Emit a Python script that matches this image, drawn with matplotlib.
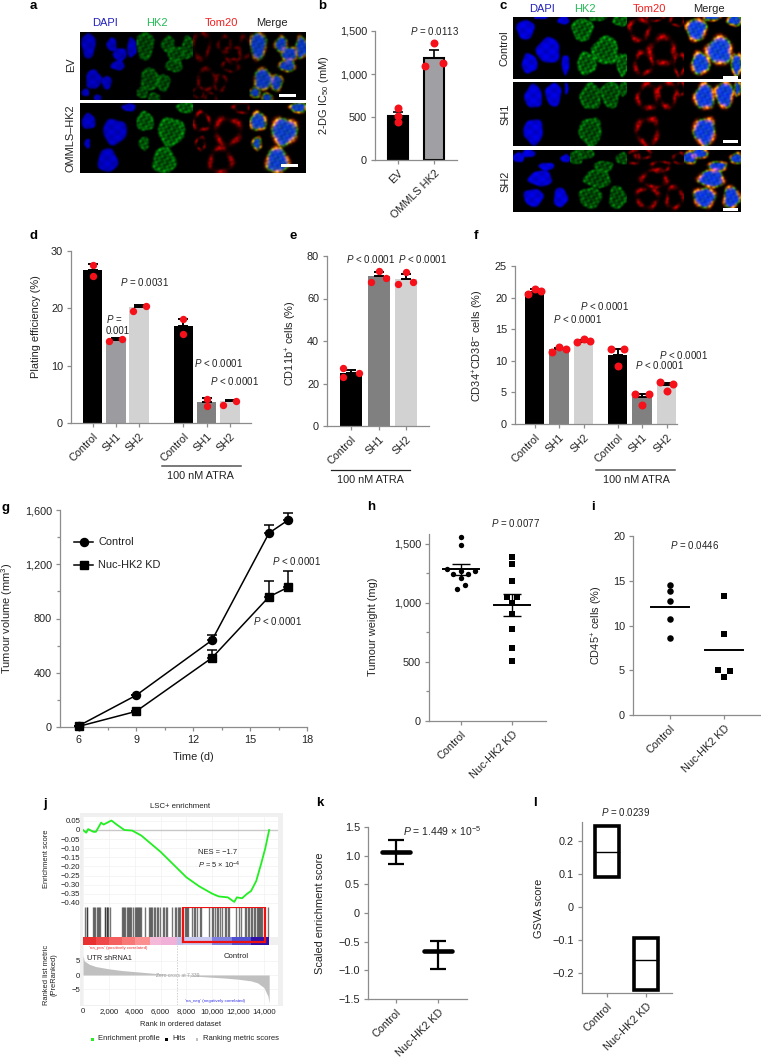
import numpy as np
import matplotlib
matplotlib.use('Agg')
import matplotlib.pyplot as plt
from matplotlib.patches import Rectangle

plt.rcParams['font.family'] = ['Liberation Sans', 'DejaVu Sans']
plt.rcParams['mathtext.fontset'] = 'custom'
plt.rcParams['mathtext.rm'] = 'Liberation Sans'
plt.rcParams['mathtext.it'] = 'Liberation Sans:italic'
plt.rcParams['mathtext.bf'] = 'Liberation Sans:bold'
plt.rcParams['mathtext.default'] = 'regular'

W, H = 761, 1057
TXT = '#222222'
AX = '#8c8c8c'
RED = '#f5101a'
BLACK, G1, G2, G3 = '#000000', '#9b9ba0', '#808080', '#d2d2d2'
PT = r'$\it{P}$'
LAB = 7.9

# ---------- data ----------
b_labels = ['EV', 'OMMLS HK2']
b_vals = [515, 1190]
b_err = [562, 1279]
b_dots = [[600, 510, 437], [1093, 1364, 1124]]
b_off = [[0, 0, 0], [-.25, 0, .25]]

bar_labels = ['Control', 'SH1', 'SH2', 'Control', 'SH1', 'SH2']
d_vals = [26.7, 14.5, 20.2, 17.0, 3.7, 3.8]
d_err = [27.7, 14.9, 20.5, 18.2, 4.4, 4.0]
d_dots = [[27.6, 25.6], [14.3, 14.65], [19.5, 20.4], [18.2, 15.5], [4.2, 3.0], [3.2, 3.9]]
d_off = [[0, 0], [-.3, .27], [-.27, .29], [0, 0], [0, 0], [-.3, .28]]

e_labels = ['Control', 'SH1', 'SH2']
e_vals = [25, 70.5, 69]
e_err = [26.3, 72.3, 71.7]
e_dots = [[27.4, 23.2, 25], [68, 73, 69.8], [66.8, 72.5, 68]]
e_off = [[-.29, -.29, .28], [-.29, 0, .29], [-.3, 0, .27]]

f_vals = [20.9, 11.9, 13.0, 10.9, 4.2, 6.1]
f_err = [21.4, 12.1, 13.3, 11.9, 4.7, 6.5]
f_dots = [[20.5, 21.4, 21.1], [11.4, 12.2, 11.9], [12.9, 13.4, 13.1],
          [11.9, 9.2, 11.8], [4.75, 3.0, 4.75], [6.6, 5.2, 6.4]]
f_off = [-.27, 0, .27]

g_days = [6, 9, 13, 16, 17]
g_ctrl = [10, 233, 640, 1430, 1525]
g_ctrl_top = [10, 233, 680, 1490, 1575]
g_kd = [5, 115, 510, 960, 1030]
g_kd_top = [5, 115, 570, 1080, 1150]

kd_labels = ['Control', 'Nuc-HK2 KD']
h_ctrl = [1559, 1486, 1283, 1246, 1266, 1246, 1266, 1210, 1116, 1153]
h_ctrl_off = [0, 0, -.28, -.15, 0, .14, .27, 0, -.07, .07]
h_kd = [1384, 1331, 1187, 1049, 1049, 1001, 908, 775, 615, 508]
h_kd_off = [0, 0, 0, -.1, .1, 0, 0, 0, 0, 0]
h_means = [1288, 984]
h_hi = [1325, 1071]
h_lo = [1238, 891]

i_ctrl = [14.5, 13.9, 12.7, 10.7, 8.6]
i_kd = [13.26, 9.0, 5.0, 4.9, 4.2]
i_kd_off = [0, 0, -.11, .11, 0]
i_means = [12.07, 7.26]

es_rank = [0, 250, 400, 800, 1000, 1400, 1600, 2000, 2200, 2600, 3200, 3800, 4500, 5000, 6000,
           7000, 8000, 9000, 10000, 10500, 11200, 11700, 11900, 12300, 12700, 13000, 13400,
           13800, 14100, 14400]
es_val = [0, -.015, .005, -.01, -.01, .04, .03, .045, .052, .03, 0, -.003, -.03, -.06, -.12,
          -.19, -.26, -.31, -.35, -.365, -.37, -.395, -.37, -.375, -.35, -.335, -.28, -.18, -.1, 0]
hits = [193, 271, 348, 774, 835, 890, 1083, 1160, 1238, 1315, 1663, 1740, 1818, 1895, 1972, 2050,
        3017, 3094, 3171, 3249, 3403, 3481, 3558, 3635, 3713, 3868, 4022, 4100, 4177, 4254, 4332,
        4409, 4486, 4795, 5105, 5182, 5260, 5337, 5492, 5569, 5724, 5801, 5956, 6188, 6265, 6420,
        6497, 6884, 7116, 7194, 7349, 7426, 7503, 7890, 7967, 8044, 8122, 8431, 8547, 8663, 8818,
        9050, 9110, 9746, 9978, 10040, 10210, 10326, 10442, 10597, 10752, 10984, 11061, 11177,
        11293, 11835, 12067, 12222, 12531, 12608, 12724, 12840, 12956, 13072, 13188, 13304, 13459,
        13536, 13614, 13691, 13768, 13846, 14310]
band_edges = [0, 1000, 2000, 3000, 4000, 5200, 6000, 7300, 7700, 10000, 11500, 13000, 14400]
band_colors = ['#e83030', '#f04848', '#f46060', '#f87878', '#fa9090', '#f4b8d8', '#f0b0d8',
               '#c0c0e8', '#c8c8f0', '#8080e0', '#5050d0', '#3010a8']
rm_rank = [0, 100, 500, 1000, 2000, 3000, 4000, 5000, 6000, 7300, 8000, 9000, 10000, 11000,
           12000, 13000, 13500, 14000, 14300, 14400]
rm_val = [7, 5, 3.8, 3, 2.2, 1.6, 1.2, .8, .4, 0, -.2, -.5, -.8, -1.1, -1.5, -2.1, -2.8, -4.5, -7.5, -10]

k_med = [1.07, -.665]
k_hi = [1.27, -.48]
k_lo = [.85, -.985]

l_med = [.167, -.16]
l_hi = [.246, -.095]
l_lo = [.09, -.25]

# nuclei for the micrographs: (cx, cy, rx, ry) in panel units
a_row1 = [(8, 13, 7, 13), (31, 12, 5, 7), (51, 15, 5, 10), (39, 22, 7, 7), (37, 33, 7, 5),
          (13, 47, 8, 10), (26, 50, 5, 7), (5, 60, 4, 4), (17, 65, 4, 3)]
a_row2 = [(48, 4, 7, 4), (8, 18, 7, 8), (34, 28, 12, 13), (7, 40, 3, 5), (27, 57, 10, 12)]
c_row1 = [(12, 12, 9, 10), (35, 33, 12, 13), (16, 46, 8, 10), (52, 47, 4, 10), (50, 3, 6, 4), (27, 0, 7, 2)]
c_row2 = [(40, 12, 8, 12), (20, 14, 9, 12), (53, 6, 2, 6), (20, 49, 10, 13)]
c_row3 = [(5, 7, 6, 5), (15, 3, 7, 4), (33, 16, 8, 4), (27, 28, 12, 8), (47, 47, 7, 10), (20, 47, 10, 9), (52, 8, 5, 4)]

# ---------- helpers ----------
fig = plt.figure(figsize=(W / 100, H / 100), dpi=100, facecolor='white')


def axpx(l, t, r, b):
    return fig.add_axes([l / W, 1 - b / H, (r - l) / W, (b - t) / H])


def ft(x, y, s, size=7, ha='left', va='center', color=TXT, **kw):
    return fig.text(x / W, 1 - y / H, s, fontsize=size, ha=ha, va=va, color=color, **kw)


def style(ax, size=7.8, color=TXT):
    for s in ('top', 'right'):
        ax.spines[s].set_visible(False)
    for s in ('left', 'bottom'):
        ax.spines[s].set_color(AX)
        ax.spines[s].set_linewidth(.9)
    ax.tick_params(which='both', color=AX, width=.9, length=3.2, labelsize=size, labelcolor=color, pad=2.5)
    ax.tick_params(which='minor', length=2.2)
    ax.patch.set_alpha(0)


def setx(ax, l, r, first, step):
    ax.set_xlim((l - first) / step, (r - first) / step)


def rotlabels(ax, pos, labels, size=7.8):
    ax.set_xticks(pos)
    ax.set_xticklabels(labels, rotation=45, ha='right', rotation_mode='anchor', fontsize=size, color=TXT)


def bars(ax, pos, vals, err, colors, width, dots, offs, capsize=3.4, ms=28):
    ax.bar(pos, vals, width=width, color=colors, linewidth=0, zorder=2)
    for p, v, e in zip(pos, vals, err):
        ax.errorbar(p, v, yerr=[[0], [e - v]], color='black', lw=1.4, capsize=capsize, capthick=1.4, zorder=3)
    for p, d, o in zip(pos, dots, offs):
        ax.scatter(p + np.array(o), d, s=ms, color=RED, linewidth=0, zorder=4, clip_on=False)


def blur(a):
    p = np.pad(a, 1, mode='edge')
    return (p[:-2, :-2] + p[:-2, 2:] + p[2:, :-2] + p[2:, 2:] + 2 * (p[:-2, 1:-1] + p[2:, 1:-1] + p[1:-1, :-2] + p[1:-1, 2:]) + 4 * p[1:-1, 1:-1]) / 16


def field(cells, w, h, green, red, seed=0.0):
    Y, X = np.mgrid[0:h, 0:w].astype(float)
    blue = np.zeros((h, w))
    g = np.zeros((h, w))
    r = np.zeros((h, w))
    for i, (cx, cy, rx, ry) in enumerate(cells):
        u = (X - cx) / rx
        v = (Y - cy) / ry
        th = np.arctan2(v, u)
        wob = 1 + .07 * np.sin(3 * th + i * 2.1 + seed) + .04 * np.sin(5 * th + i)
        rr = np.hypot(u, v) * wob
        blue = np.maximum(blue, np.clip((1.05 - rr) * 6, 0, 1) * (.88 + .12 * np.sin(X * .5 + i) * np.sin(Y * .6)))
        ex = np.hypot(u * rx / (rx + 2.2), v * ry / (ry + 2.2)) * wob
        tex = (np.sin(.9 * X + .7 * Y + i + seed) + np.sin(1.45 * X - .6 * Y + 2.3 * i)
               + np.sin(.5 * X + 1.7 * Y + 1.1 * i + seed)) / 6 + .5
        g = np.maximum(g, np.clip((1.0 - ex) * 7, 0, 1) * (.15 + .85 * tex ** 1.4)
                       * (.65 + .35 * np.exp(-((ex - .85) / .2) ** 2)))
        ring = np.exp(-((ex - .85) / .17) ** 2) * (.55 + .45 * np.sin(th * 4 + i * 1.7 + seed)) * (.35 + 1.0 * tex)
        r = np.maximum(r, np.clip(ring, 0, 1))
    return blur(blue), blur(g) * green, blur(r) * red


def micro(l, t, r, b, cells, green, red, scale, seed=0.0, bmax=.95):
    ax = axpx(l, t, r, b)
    cw = (r - l) / 4
    w, h = int(round(cw)), int(round(b - t))
    bl, g, rd = field(cells, w, h, green, red, seed)
    z = np.zeros((h, w))
    dapi = np.dstack([z, z, bl * bmax])
    hk = np.dstack([z, g, g * .08])
    tom = np.dstack([rd, z, z])
    gm = g * (.35 + .65 * (1 - bl))
    merge = np.clip(np.dstack([rd * 1.2 + gm * .2 + g * bl * .1, gm * 1.1 + rd * .2 + bl * .12, bl * bmax]), 0, 1)
    img = np.hstack([dapi, hk, tom, merge])
    ax.imshow(img, extent=(l, r, b, t), interpolation='bilinear', aspect='auto', zorder=1)
    ax.add_patch(Rectangle((scale[0], scale[1]), scale[2] - scale[0], 3, color='white', lw=0, zorder=2))
    ax.set_xlim(l, r)
    ax.set_ylim(b, t)
    ax.axis('off')


# background panel of the GSEA plot
bg = axpx(80, 813, 283, 1006)
bg.set_facecolor('#f0f0f0')
bg.set_xticks([])
bg.set_yticks([])
for s in bg.spines.values():
    s.set_visible(False)

# ---------- panel letters ----------
for s, x, y in [('a', 30, 6), ('b', 318, 6), ('c', 500, 6), ('d', 30, 236), ('e', 289, 236), ('f', 474, 236),
                ('g', 1, 508), ('h', 367, 507), ('i', 591, 507), ('j', 43, 804), ('k', 316, 803), ('l', 533, 803)]:
    ft(x, y, s, size=9.5, fontweight='bold', color='black')

# ---------- a ----------
micro(80, 32, 306, 100, a_row1, .75, .55, (279, 94, 296), bmax=.8)
micro(80, 103, 306, 173, a_row2, .95, .9, (281, 164, 298), seed=1.3, bmax=.85)
for s, x, c in [('DAPI', 105, '#2222bb'), ('HK2', 157, '#22bb55'), ('Tom20', 221, '#ee2222'), ('Merge', 272, TXT)]:
    ft(x, 23, s, size=8, ha='center', color=c)
ft(71, 65, 'EV', size=LAB, ha='center', rotation=90)
ft(71, 138, 'OMMLS–HK2', size=LAB, ha='center', rotation=90)

# ---------- b ----------
ax = axpx(375, 31, 457, 160)
style(ax)
bpos = [0, 1]
setx(ax, 375, 457, 398, 36)
ax.bar(bpos, b_vals, width=.58, color=[BLACK, '#a0a0a4'], edgecolor='black', linewidth=1.5, zorder=2)
for p, v, e in zip(bpos, b_vals, b_err):
    ax.errorbar(p, v, yerr=[[0], [e - v]], color='black', lw=1.2, capsize=3.6, capthick=1.2, zorder=3)
for p, d, o in zip(bpos, b_dots, b_off):
    ax.scatter(p + np.array(o), d, s=33, color=RED, linewidth=0, zorder=4)
ax.set_ylim(0, 1500)
ax.set_yticks([0, 500, 1000, 1500])
ax.set_yticklabels(['0', '500', '1,000', '1,500'])
rotlabels(ax, bpos, b_labels)
ft(434, 31, PT + ' = 0.0113', ha='center')
ft(324, 95, '2-DG IC$_{50}$ (mM)', size=LAB, ha='center', rotation=90)

# ---------- c ----------
micro(513, 17, 741, 79, c_row1, 1, 1, (723, 76, 738))
micro(513, 82, 741, 146, c_row2, .85, 1, (723, 140, 738), seed=.7)
micro(513, 150, 741, 212, c_row3, .8, .9, (723, 208, 738), seed=2.1)
for s, x, c in [('DAPI', 542, '#2222bb'), ('HK2', 585, '#22bb55'), ('Tom20', 649, '#ee2222'), ('Merge', 709, TXT)]:
    ft(x, 9, s, size=8, ha='center', color=c)
for s, y in [('Control', 48), ('SH1', 114), ('SH2', 181)]:
    ft(505, y, s, size=LAB, ha='center', rotation=90)

# ---------- d ----------
ax = axpx(71, 251, 251, 423)
style(ax)
dpos = np.array([0, 1, 2, 3.9, 4.9, 5.9])
setx(ax, 71, 251, 92.5, 23.3)
bars(ax, dpos, d_vals, d_err, [BLACK, G1, G3, BLACK, G2, G3], .84, d_dots, d_off)
ax.set_ylim(0, 30)
ax.set_yticks([0, 10, 20, 30])
rotlabels(ax, dpos, bar_labels)
ft(36, 327, 'Plating efficiency (%)', size=LAB, ha='center', rotation=90)
ft(120, 282, PT + ' = 0.0031')
ft(106, 319, PT + ' =')
ft(106, 331, '0.001')
ft(194, 363, PT + ' < 0.0001')
ft(210, 381, PT + ' < 0.0001')
ft(200, 476, '100 nM ATRA', size=7.8, ha='center')
fig.add_artist(plt.Line2D([162 / W, 241 / W], [1 - 466 / H] * 2, color='#555555', lw=1.1))

# ---------- e ----------
ax = axpx(327, 256, 429, 426)
style(ax)
epos = [0, 1, 2]
setx(ax, 327, 429, 351, 27.5)
bars(ax, epos, e_vals, e_err, [BLACK, G2, G3], .8, e_dots, e_off)
ax.set_ylim(0, 80)
ax.set_yticks([0, 20, 40, 60, 80])
rotlabels(ax, epos, e_labels)
ft(291, 343, 'CD11b$^{+}$ cells (%)', size=LAB, ha='center', rotation=90)
ft(346, 259, PT + ' < 0.0001')
ft(398, 259, PT + ' < 0.0001')
ft(370, 480, '100 nM ATRA', size=7.8, ha='center')
fig.add_artist(plt.Line2D([331 / W, 410 / W], [1 - 470 / H] * 2, color='#222222', lw=.9))

# ---------- f ----------
ax = axpx(515, 266, 677, 424)
style(ax)
fpos = np.array([0, 1, 2, 3.39, 4.39, 5.39])
setx(ax, 515, 677, 534.5, 24.5)
bars(ax, fpos, f_vals, f_err, [BLACK, G2, G3, BLACK, G2, G3], .8, f_dots, [f_off] * 6, ms=33)
ax.set_ylim(0, 25)
ax.set_yticks([0, 5, 10, 15, 20, 25])
rotlabels(ax, fpos, bar_labels)
ft(478, 346, 'CD34$^{+}$CD38$^{-}$ cells (%)', size=LAB, ha='center', rotation=90)
ft(553, 319, PT + ' < 0.0001')
ft(580, 306, PT + ' < 0.0001')
ft(635, 365, PT + ' < 0.0001')
ft(659, 355, PT + ' < 0.0001')
ft(636, 480, '100 nM ATRA', size=7.8, ha='center')
fig.add_artist(plt.Line2D([596 / W, 675 / W], [1 - 470 / H] * 2, color='#555555', lw=1.1))

# ---------- g ----------
ax = axpx(60, 510, 307, 727)
style(ax)
ax.set_xlim(5, 18)
ax.set_ylim(0, 1600)
for vals, top, mk, ms, lab in [(g_ctrl, g_ctrl_top, 'o', 5.8, 'Control'), (g_kd, g_kd_top, 's', 6.2, 'Nuc-HK2 KD')]:
    ax.errorbar(g_days, vals, yerr=[np.zeros(5), np.array(top) - np.array(vals)], color='black', lw=1.1,
                marker=mk, ms=ms, capsize=3.6, capthick=1.1, elinewidth=1.1, label=lab, clip_on=False, zorder=3)
ax.set_xticks([6, 9, 12, 15, 18])
ax.set_xticks([7.5, 10.5, 13.5, 16.5], minor=True)
ax.set_yticks([0, 400, 800, 1200, 1600])
ax.set_yticklabels(['0', '400', '800', '1,200', '1,600'])
ax.set_yticks([200, 600, 1000, 1400], minor=True)
ax.plot([5.74, 6.74], [1364, 1364], color='black', lw=1.1)
ax.plot([6.24], [1364], marker='o', ms=5.8, color='black')
ax.plot([5.74, 6.74], [1194, 1194], color='black', lw=1.1)
ax.plot([6.24], [1194], marker='s', ms=6.2, color='black')
ft(98, 542, 'Control', size=LAB)
ft(98, 565, 'Nuc-HK2 KD', size=LAB)
ft(272, 561, PT + ' < 0.0001')
ft(253, 621, PT + ' < 0.0001')
ft(193, 757, 'Time (d)', size=LAB, ha='center')
ft(7, 618, 'Tumour volume (mm$^{3}$)', size=LAB, ha='center', rotation=90)

# ---------- h ----------
ax = axpx(429, 534, 546, 721)
style(ax)
setx(ax, 429, 546, 461, 51)
ax.set_ylim(0, 1582)
ax.scatter(np.array(h_ctrl_off), h_ctrl, s=15, color='black', marker='o', linewidth=0, zorder=3)
ax.scatter(1 + np.array(h_kd_off), h_kd, s=17, color='black', marker='s', linewidth=0, zorder=3)
for p, m, a, b in zip([0, 1], h_means, h_hi, h_lo):
    ax.plot([p - .35, p + .35], [m, m], color='black', lw=1.4, zorder=4)
    ax.errorbar(p, m, yerr=[[m - b], [a - m]], color='black', lw=1, capsize=6.3, capthick=1, zorder=4)
ax.set_yticks([0, 500, 1000, 1500])
ax.set_yticklabels(['0', '500', '1,000', '1,500'])
ax.set_yticks([250, 750, 1250], minor=True)
rotlabels(ax, [0, 1], kd_labels)
ft(515, 523, PT + ' = 0.0077', ha='center')
ft(373, 627, 'Tumour weight (mg)', size=LAB, ha='center', rotation=90)

# ---------- i ----------
ax = axpx(633, 536, 761, 715)
style(ax)
setx(ax, 633, 761, 670, 54)
ax.set_ylim(0, 20)
ax.scatter(np.zeros(5), i_ctrl, s=22, color='black', marker='o', linewidth=0, zorder=3)
ax.scatter(1 + np.array(i_kd_off), i_kd, s=22, color='black', marker='s', linewidth=0, zorder=3)
for p, m in zip([0, 1], i_means):
    ax.plot([p - .35, p + .35], [m, m], color='black', lw=1.4, zorder=4)
ax.set_yticks([0, 5, 10, 15, 20])
rotlabels(ax, [0, 1], kd_labels)
ft(695, 545, PT + ' = 0.0446', ha='center')
ft(597, 625, 'CD45$^{+}$ cells (%)', size=LAB, ha='center', rotation=90)

# ---------- j ----------
XMAX = (278 - 83) / 181 * 14000
SZ = 5.6
es = axpx(83, 817, 278, 907)
es.set_facecolor('white')
es.set_xlim(0, XMAX)
es.set_ylim(-.423, .0714)
es.plot(es_rank, es_val, color='#22ee22', lw=1.3, zorder=3)
es.axhline(0, color='#c8c8c8', lw=1, zorder=2)
es.set_xticks(np.arange(0, 15000, 2000))
es.set_xticklabels([])
es.set_yticks(np.arange(-.40, .06, .05))
es.set_yticklabels(['−0.40', '−0.35', '−0.30', '−0.25', '−0.20', '−0.15', '−0.10', '−0.05', '0', '0.05'])
es.grid(color='#f2f2f2', lw=.5)
es.tick_params(axis='y', labelsize=SZ, length=0, pad=2, labelcolor=TXT)
es.tick_params(axis='x', length=0)
for s in es.spines.values():
    s.set_visible(False)

ht = axpx(83, 907, 278, 937)
ht.set_facecolor('white')
ht.set_xlim(0, XMAX)
ht.set_ylim(0, 1)
ht.vlines(hits, 0, 1, color='#1a1a1a', lw=1.0, alpha=.6)
ht.set_xticks([])
ht.set_yticks([])
for s in ht.spines.values():
    s.set_visible(False)

bd = axpx(83, 937, 278, 945)
bd.set_xlim(0, XMAX)
bd.set_ylim(0, 1)
bd.bar(band_edges[:-1], 1, width=np.diff(band_edges), align='edge', color=band_colors, linewidth=0)
bd.axis('off')

rm = axpx(83, 945, 278, 1005)
rm.set_facecolor('white')
rm.set_xlim(0, XMAX)
rm.set_ylim(-10.7, 10.7)
rm.fill_between(rm_rank, rm_val, 0, color='#c0c0c0', linewidth=0, zorder=2)
rm.axvline(7300, color='#bbbbbb', lw=.5, ls=(0, (2, 2)), zorder=1)
rm.set_xticks(np.arange(0, 15000, 2000))
rm.set_xticklabels(['0', '2,000', '4,000', '6,000', '8,000', '10,000', '12,000', '14,000'])
rm.set_yticks([-5, 0, 5])
rm.set_yticklabels(['−5', '0', '5'])
rm.grid(color='#f2f2f2', lw=.5)
rm.tick_params(labelsize=SZ, length=0, pad=2, labelcolor=TXT)
for s in rm.spines.values():
    s.set_visible(False)

box_ax = axpx(83, 907, 278, 945)
box_ax.set_xlim(0, XMAX)
box_ax.set_ylim(0, 1)
box_ax.add_patch(Rectangle((7750, .08), 6350, .92, fill=False, edgecolor='#ee1111', lw=1.6))
box_ax.axis('off')

ft(180, 807, 'LSC+ enrichment', size=5.6, ha='center')
ft(47, 859, 'Enrichment score', size=5.4, ha='center', rotation=90)
ft(50, 975, 'Ranked list metric\n(PreRanked)', size=5.4, ha='center', rotation=90, multialignment='center', linespacing=1.1)
ft(198, 853, 'NES = −1.7', size=5.4)
ft(198, 865, PT + ' = 5 × 10$^{-4}$', size=5.4)
ft(87, 958, 'UTR shRNA1', size=5.3)
ft(236, 956, 'Control', size=5.6, ha='center')
ft(118, 948, "'na_pos' (positively correlated)", size=3.2, ha='center', color='#ee3333')
ft(178, 975, 'Zero cross at 7,339', size=3.6, ha='center', color='#999999')
ft(215, 1001, "'na_neg' (negatively correlated)", size=3.2, ha='center', color='#3333ee')
ft(180, 1024, 'Rank in ordered dataset', size=5.4, ha='center')
for x, c, s, tx in [(92, '#22ee22', 'Enrichment profile', 98), (166, 'black', 'Hits', 172),
                    (197, '#c0c0c0', 'Ranking metric scores', 203)]:
    fig.add_artist(Rectangle(((x - 1.5) / W, 1 - 1040.5 / H), 3 / W, 3 / H, color=c, lw=0, transform=fig.transFigure))
    ft(tx, 1039, s, size=5.5)

# ---------- k ----------
ax = axpx(368, 827, 467, 999)
style(ax)
setx(ax, 368, 467, 396, 42)
ax.set_ylim(-1.5, 1.5)
for p, m, a, b in zip([0, 1], k_med, k_hi, k_lo):
    ax.errorbar(p, m, yerr=[[m - b], [a - m]], color='black', lw=1.6, capsize=6, capthick=1.6, zorder=3)
    ax.plot([p - .33, p + .33], [m, m], color='black', lw=3.3, solid_capstyle='round', zorder=4)
ax.set_yticks([-1.5, -1, -.5, 0, .5, 1, 1.5])
ax.set_yticklabels(['−1.5', '−1.0', '−0.5', '0', '0.5', '1.0', '1.5'])
rotlabels(ax, [0, 1], kd_labels)
ft(403, 831, PT + ' = 1.449 × 10$^{-5}$', size=7.5)
ft(320, 913, 'Scaled enrichment score', size=LAB, ha='center', rotation=90)

# ---------- l ----------
ax = axpx(582, 822, 672, 993)
style(ax)
setx(ax, 582, 672, 607, 39)
ax.set_ylim(-.2606, .2576)
ax.bar([0, 1], np.array(l_hi) - np.array(l_lo), bottom=l_lo, width=.6, facecolor='white', edgecolor='black',
       linewidth=2.6, zorder=3)
for p, m in zip([0, 1], l_med):
    ax.plot([p - .3, p + .3], [m, m], color='black', lw=1, zorder=4)
ax.set_yticks([-.2, -.1, 0, .1, .2])
ax.set_yticklabels(['−0.2', '−0.1', '0', '0.1', '0.2'])
rotlabels(ax, [0, 1], kd_labels)
ft(626, 812, PT + ' = 0.0239', ha='center')
ft(539, 908, 'GSVA score', size=LAB, ha='center', rotation=90)

fig.savefig('out.png', dpi=100, facecolor='white')
